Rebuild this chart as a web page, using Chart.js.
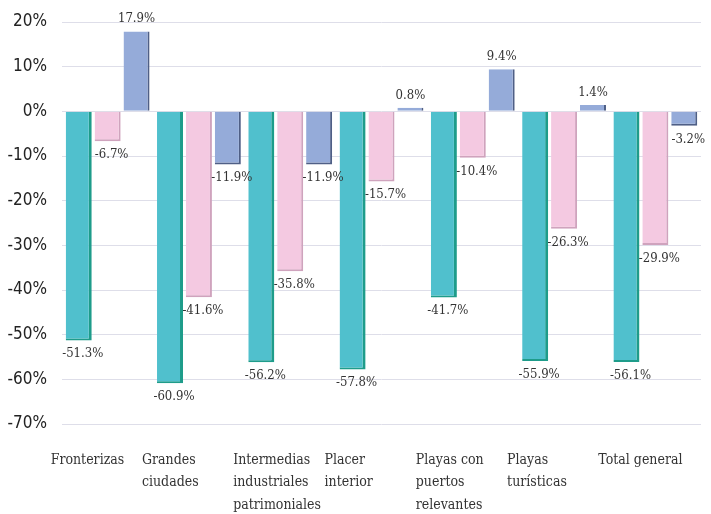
<!DOCTYPE html>
<html>
<head>
<meta charset="utf-8">
<script src="https://cdn.jsdelivr.net/npm/chart.js@4/dist/chart.umd.min.js"></script>
<style>
  html, body { margin: 0; padding: 0; background: #fff; }
  #wrap { width: 711px; height: 514px; }
</style>
</head>
<body>
<div id="wrap"><canvas id="chart"></canvas></div>
<script>
// categories and series values (percent change)
const categories = [
    'Fronterizas',
    ['Grandes', 'ciudades'],
    ['Intermedias', 'industriales', 'patrimoniales'],
    ['Placer', 'interior'],
    ['Playas con', 'puertos', 'relevantes'],
    ['Playas', 'turísticas'],
    'Total general'
];
const serieTeal = [-51.3, -60.9, -56.2, -57.8, -41.7, -55.9, -56.1];
const seriePink = [-6.7, -41.6, -35.8, -15.7, -10.4, -26.3, -29.9];
const serieBlue = [17.9, -11.9, -11.9, 0.8, 9.4, 1.4, -3.2];
const yTicks = [20, 10, 0, -10, -20, -30, -40, -50, -60, -70];

// draws the value above / below each bar
const valueLabels = {
    id: 'valueLabels',
    afterDatasetsDraw(chart) {
        const ctx = chart.ctx;
        ctx.save();
        ctx.font = '13px "DejaVu Serif Condensed", "DejaVu Serif", serif';
        ctx.fillStyle = '#333';
        ctx.textAlign = 'center';
        chart.data.datasets.forEach((ds, i) => {
            chart.getDatasetMeta(i).data.forEach((bar, j) => {
                const v = ds.data[j];
                const txt = v.toFixed(1) + '%';
                if (v >= 0) {
                    ctx.textBaseline = 'bottom';
                    ctx.fillText(txt, bar.x, bar.y - 6);
                } else {
                    ctx.textBaseline = 'top';
                    ctx.fillText(txt, bar.x + 4, bar.y + 7);
                }
            });
        });
        ctx.restore();
    }
};

const ctx = document.getElementById('chart').getContext('2d');
new Chart(ctx, {
    type: 'bar',
    data: {
        labels: categories,
        datasets: [{
            data: serieTeal,
            backgroundColor: '#50c0cd',
            borderColor: '#1e9c8a',
            borderWidth: { right: 3, bottom: 2 }
        }, {
            data: seriePink,
            backgroundColor: '#f4c9e1',
            borderColor: '#cfa3bd',
            borderWidth: { right: 2, bottom: 2 }
        }, {
            data: serieBlue,
            backgroundColor: '#95abd9',
            borderColor: '#4f5f86',
            borderWidth: { right: 2, bottom: 2 }
        }]
    },
    options: {
        responsive: true,
        maintainAspectRatio: false,
        animation: false,
        datasets: {
            bar: { categoryPercentage: 0.95, barPercentage: 0.9, borderSkipped: 'start' }
        },
        layout: { padding: { top: 22, right: 10, left: 0, bottom: 0 } },
        plugins: {
            legend: { display: false },
            tooltip: { enabled: false }
        },
        scales: {
            x: {
                grid: { display: false, drawTicks: false },
                border: { display: false },
                afterFit(scale) {
                    scale.paddingLeft = 0;
                    scale.paddingRight = 0;
                    scale.height = 90;
                },
                ticks: {
                    color: '#333',
                    align: 'start',
                    labelOffset: -57,
                    padding: 25,
                    maxRotation: 0,
                    autoSkip: false,
                    font: { family: '"DejaVu Serif Condensed", "DejaVu Serif", serif', size: 14, lineHeight: 1.6 }
                }
            },
            y: {
                min: -70,
                max: 20,
                afterBuildTicks(axis) {
                    axis.ticks = yTicks.map(v => ({ value: v }));
                },
                afterFit(scale) {
                    scale.width = 62;
                    scale.paddingTop = 0;
                    scale.paddingBottom = 0;
                },
                grid: { color: '#dedee9', drawTicks: false },
                border: { display: false },
                ticks: {
                    color: '#222',
                    padding: 15,
                    font: { family: '"DejaVu Sans Condensed", "DejaVu Sans", sans-serif', size: 17 },
                    callback: v => v + '%'
                }
            }
        }
    },
    plugins: [valueLabels]
});
</script>
</body>
</html>
